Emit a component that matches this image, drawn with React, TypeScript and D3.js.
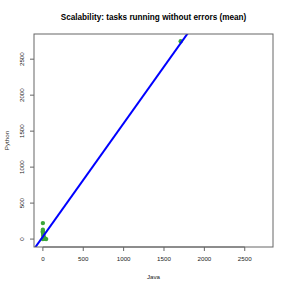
import React from "react";
import * as d3 from "d3";

const W = 291;
const H = 291;
const MARGIN = { top: 34, right: 18, bottom: 44, left: 34 };

const TITLE = "Scalability: tasks running without errors (mean)";
const X_LABEL = "Java";
const Y_LABEL = "Python";

// points (Java, Python)
const javaValues = [0, 0, 0, 0, 5, 5, 10, 10, 20, 30, 40, 0, 1707];
const pythonValues = [222, 130, 110, 90, 70, 50, 30, 15, 10, 5, 0, 0, 2750];

// fitted line: Python = a + b * Java
const FIT = { intercept: 34, slope: 1.575 };

const TICKS = [0, 500, 1000, 1500, 2000, 2500];
const DOMAIN = [-110, 2850];

const App = () => {
  const boundsWidth = W - MARGIN.left - MARGIN.right;
  const boundsHeight = H - MARGIN.top - MARGIN.bottom;

  const xScale = d3.scaleLinear().domain(DOMAIN).range([0, boundsWidth]);
  const yScale = d3.scaleLinear().domain(DOMAIN).range([boundsHeight, 0]);

  const points = javaValues.map((x, i) => ({ x, y: pythonValues[i] }));

  const lineGen = d3
    .line<number>()
    .x((d) => xScale(d))
    .y((d) => yScale(FIT.intercept + FIT.slope * d));

  const font = "'Liberation Sans', Arial, Helvetica, sans-serif";

  return (
    <svg
      width={W}
      height={H}
      style={{ position: "absolute", left: 0, top: 0, background: "#fff" }}
    >
      <defs>
        <clipPath id="plotClip">
          <rect x={0} y={0} width={boundsWidth} height={boundsHeight} />
        </clipPath>
      </defs>
      <text
        x={MARGIN.left + boundsWidth / 2}
        y={20}
        textAnchor="middle"
        fontFamily={font}
        fontWeight="bold"
        fontSize={8.2}
        fill="#000"
      >
        {TITLE}
      </text>
      <g transform={`translate(${MARGIN.left},${MARGIN.top})`}>
        <g clipPath="url(#plotClip)">
          {points.map((p, i) => (
            <circle
              key={i}
              cx={xScale(p.x)}
              cy={yScale(p.y)}
              r={2.2}
              fill="#3aa63a"
            />
          ))}
          <path
            d={lineGen(DOMAIN) || ""}
            fill="none"
            stroke="#0000ff"
            strokeWidth={2}
          />
        </g>
        <rect
          x={0}
          y={0}
          width={boundsWidth}
          height={boundsHeight}
          fill="none"
          stroke="#666"
          strokeWidth={1}
        />
        {/* x axis */}
        <line
          x1={xScale(TICKS[0])}
          x2={xScale(TICKS[TICKS.length - 1])}
          y1={boundsHeight}
          y2={boundsHeight}
          stroke="#666"
        />
        {TICKS.map((t) => (
          <g key={`x${t}`} transform={`translate(${xScale(t)},${boundsHeight})`}>
            <line y1={0} y2={4} stroke="#666" />
            <text
              y={13.5}
              textAnchor="middle"
              fontFamily={font}
              fontSize={6.2}
              fill="#222"
            >
              {t}
            </text>
          </g>
        ))}
        {/* y axis */}
        {TICKS.map((t) => (
          <g key={`y${t}`} transform={`translate(0,${yScale(t)})`}>
            <line x1={0} x2={-4} stroke="#666" />
            <text
              transform="translate(-10,0) rotate(-90)"
              textAnchor="middle"
              fontFamily={font}
              fontSize={6.2}
              fill="#222"
            >
              {t}
            </text>
          </g>
        ))}
      </g>
      <text
        x={MARGIN.left + boundsWidth / 2}
        y={279}
        textAnchor="middle"
        fontFamily={font}
        fontSize={6.2}
        fill="#222"
      >
        {X_LABEL}
      </text>
      <text
        transform={`translate(9,${MARGIN.top + boundsHeight / 2}) rotate(-90)`}
        textAnchor="middle"
        fontFamily={font}
        fontSize={6.2}
        fill="#222"
      >
        {Y_LABEL}
      </text>
    </svg>
  );
};

export default App;
